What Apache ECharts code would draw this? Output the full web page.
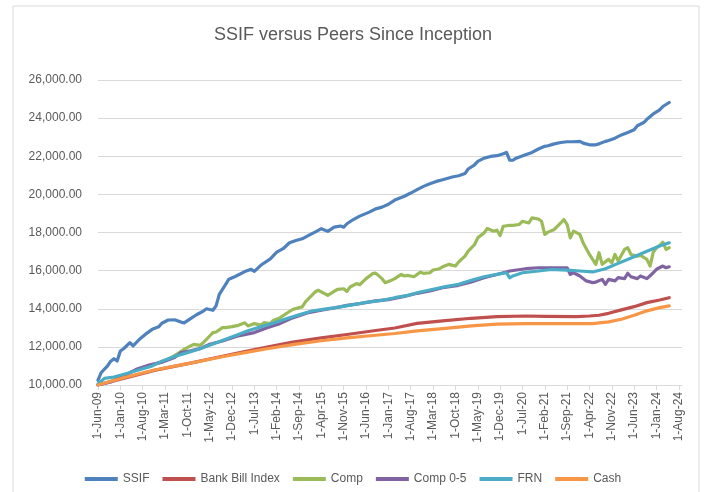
<!DOCTYPE html>
<html>
<head>
<meta charset="utf-8">
<script src="https://cdn.jsdelivr.net/npm/echarts@6/dist/echarts.min.js"></script>
<style>
html,body{margin:0;padding:0;background:#fff;}
#chart{width:706px;height:492px;}
</style>
</head>
<body>
<div id="chart"></div>
<script>
// x positions are months since 1-Jun-09
const tickLabels = ['1-Jun-09','1-Jan-10','1-Aug-10','1-Mar-11','1-Oct-11','1-May-12','1-Dec-12','1-Jul-13','1-Feb-14','1-Sep-14','1-Apr-15','1-Nov-15','1-Jun-16','1-Jan-17','1-Aug-17','1-Mar-18','1-Oct-18','1-May-19','1-Dec-19','1-Jul-20','1-Feb-21','1-Sep-21','1-Apr-22','1-Nov-22','1-Jun-23','1-Jan-24','1-Aug-24'];
const monthCount = 184;

const ssif = [[0,10250],[1,10650],[3,11000],[4,11250],[5,11380],[6,11260],[7,11780],[8,11900],[10,12220],[11,12050],[13,12400],[15,12680],[17,12920],[19,13050],[20,13240],[22,13410],[24,13420],[26,13300],[27,13260],[29,13480],[31,13700],[33,13880],[34,14000],[36,13920],[37,14150],[38,14750],[40,15280],[41,15550],[43,15690],[46,15950],[48,16070],[49,15960],[51,16280],[54,16620],[56,16970],[58,17150],[60,17460],[62,17580],[64,17670],[66,17850],[68,18020],[70,18200],[72,18060],[74,18280],[76,18340],[77,18280],[78,18460],[80,18680],[82,18860],[85,19070],[87,19240],[89,19330],[91,19480],[93,19700],[96,19900],[98,20070],[100,20250],[102,20420],[104,20560],[106,20680],[108,20770],[111,20910],[113,20980],[115,21090],[116,21330],[118,21550],[119,21730],[121,21900],[123,21990],[125,22030],[127,22130],[128,22200],[129,21800],[130,21790],[131,21900],[134,22080],[136,22200],[138,22380],[140,22520],[141,22550],[143,22650],[145,22720],[147,22760],[149,22760],[151,22780],[152,22690],[154,22600],[156,22600],[157,22650],[159,22780],[160,22830],[162,22950],[164,23120],[166,23250],[168,23390],[169,23600],[171,23770],[172,23940],[174,24220],[176,24430],[177,24610],[179,24820]];

const bankBill = [[0,10000],[8,10340],[18,10780],[29,11150],[39,11510],[46,11750],[53,11990],[61,12250],[70,12470],[78,12650],[87,12860],[93,12990],[100,13230],[108,13360],[117,13500],[125,13590],[134,13620],[140,13600],[150,13590],[154,13620],[157,13660],[160,13760],[164,13940],[168,14110],[172,14320],[176,14460],[179,14580]];

const comp = [[0,10000],[4,10200],[8,10480],[12,10800],[16,11000],[20,11200],[23,11450],[25,11650],[27,11870],[29,12050],[30,12130],[32,12080],[33,12220],[35,12570],[36,12750],[37,12780],[39,13010],[40,13010],[42,13060],[44,13130],[46,13260],[47,13100],[49,13220],[51,13140],[52,13270],[54,13220],[55,13400],[57,13520],[59,13750],[61,13960],[62,14010],[64,14100],[65,14360],[67,14700],[68,14880],[69,14970],[71,14790],[72,14700],[74,14910],[75,15020],[77,15050],[78,14910],[79,15140],[81,15320],[82,15260],[84,15580],[86,15840],[87,15870],[89,15580],[90,15370],[92,15500],[93,15580],[95,15800],[96,15720],[97,15750],[99,15680],[101,15920],[102,15860],[104,15890],[105,16030],[107,16100],[108,16200],[110,16330],[112,16240],[113,16450],[115,16760],[116,17020],[118,17370],[119,17720],[121,17980],[122,18210],[124,18070],[125,18120],[126,17840],[127,18330],[129,18380],[130,18370],[132,18420],[133,18590],[135,18500],[136,18770],[138,18710],[139,18590],[140,17900],[141,18020],[143,18160],[145,18500],[146,18680],[147,18420],[148,17720],[149,18070],[151,17900],[152,17460],[154,16850],[155,16590],[156,16330],[157,16940],[158,16330],[160,16590],[161,16410],[162,16850],[163,16500],[165,17110],[166,17200],[167,16850],[169,16760],[170,16800],[172,16590],[173,16240],[174,16970],[175,17200],[176,17320],[177,17490],[178,17110],[179,17200]];

const comp05 = [[0,10000],[4,10160],[8,10470],[12,10820],[16,11050],[20,11200],[24,11440],[26,11700],[29,11790],[32,11910],[35,12140],[39,12310],[44,12580],[49,12750],[53,13000],[57,13220],[61,13520],[66,13800],[70,13920],[74,14040],[78,14180],[82,14270],[87,14410],[91,14480],[96,14640],[100,14810],[104,14930],[108,15110],[113,15230],[117,15400],[121,15630],[125,15800],[129,15980],[134,16100],[138,16150],[140,16150],[143,16140],[147,16150],[148,15800],[149,15890],[151,15720],[153,15460],[155,15370],[156,15400],[158,15540],[159,15280],[160,15540],[162,15460],[163,15630],[165,15580],[166,15860],[167,15680],[169,15580],[170,15720],[172,15580],[174,15890],[175,16070],[177,16240],[178,16150],[179,16200]];

const frn = [[0,10050],[2,10350],[5,10420],[9,10600],[13,10800],[17,11000],[20,11250],[24,11500],[28,11700],[32,11900],[36,12150],[40,12400],[44,12650],[47,12850],[51,13050],[55,13250],[59,13480],[63,13680],[67,13880],[71,13980],[76,14100],[80,14220],[84,14330],[89,14440],[93,14580],[97,14700],[101,14880],[105,15020],[109,15160],[113,15280],[117,15490],[121,15680],[125,15800],[128,15890],[129,15620],[130,15720],[133,15890],[138,15980],[142,16060],[147,16030],[151,15980],[155,15930],[159,16100],[163,16380],[168,16730],[172,17020],[176,17290],[179,17460]];

const cash = [[0,10000],[8,10380],[18,10800],[29,11150],[39,11480],[46,11700],[53,11900],[61,12120],[70,12320],[78,12470],[87,12610],[93,12700],[100,12840],[108,12960],[117,13100],[125,13190],[134,13220],[145,13220],[155,13220],[160,13310],[164,13450],[168,13660],[172,13890],[176,14060],[179,14150]];

const seriesNames = ['SSIF','Bank Bill Index','Comp','Comp 0-5','FRN','Cash'];
const seriesData = [ssif, bankBill, comp, comp05, frn, cash];
const colors = ['#4F81BD','#C0504D','#9BBB59','#8064A2','#4BACC6','#F79646'];

const months = [];
for (let i = 0; i < monthCount; i++) months.push(String(i));

const font = 'Liberation Sans, Arial, sans-serif';
const chart = echarts.init(document.getElementById('chart'), null, {renderer: 'canvas'});
chart.setOption({
  animation: false,
  color: colors,
  textStyle: {fontFamily: font},
  graphic: [{
    type: 'rect', z: -10, silent: true,
    shape: {x: 13, y: 6, width: 686, height: 500},
    style: {fill: 'none', stroke: '#d9d9d9', lineWidth: 1}
  }],
  title: {
    text: 'SSIF versus Peers Since Inception',
    left: 'center', top: 21,
    textStyle: {fontSize: 18, fontWeight: 'normal', color: '#595959', fontFamily: font}
  },
  legend: {
    data: seriesNames,
    left: 'center', top: 468,
    icon: 'rect', itemWidth: 33, itemHeight: 4, itemGap: 13,
    textStyle: {fontSize: 12, color: '#595959', fontFamily: font}
  },
  grid: {left: 98, right: 24, top: 80, bottom: 107, containLabel: false},
  xAxis: {
    type: 'category', data: months, boundaryGap: false,
    axisLine: {lineStyle: {color: '#d9d9d9', width: 1}},
    axisTick: {show: true, length: 5, interval: (i) => i % 7 === 0, lineStyle: {color: '#d9d9d9'}},
    axisLabel: {
      interval: (i) => i % 7 === 0,
      rotate: 90, margin: 7,
      fontSize: 12, color: '#595959', fontFamily: font,
      formatter: (v) => { const n = Number(v); return n % 7 === 0 ? (tickLabels[n / 7] || '') : ''; }
    },
    splitLine: {show: false}
  },
  yAxis: {
    type: 'value', min: 10000, max: 26000, interval: 2000,
    axisLine: {show: false}, axisTick: {show: false},
    axisLabel: {
      fontSize: 12, color: '#595959', margin: 16, fontFamily: font,
      formatter: (v) => v.toLocaleString('en-US', {minimumFractionDigits: 2, maximumFractionDigits: 2})
    },
    splitLine: {lineStyle: {color: '#d9d9d9', width: 1}}
  },
  series: seriesNames.map((name, k) => ({
    name, type: 'line', data: seriesData[k],
    showSymbol: false, symbol: 'none',
    lineStyle: {width: 3.2, color: colors[k], cap: 'round', join: 'round'},
    itemStyle: {color: colors[k]}
  }))
});
</script>
</body>
</html>
